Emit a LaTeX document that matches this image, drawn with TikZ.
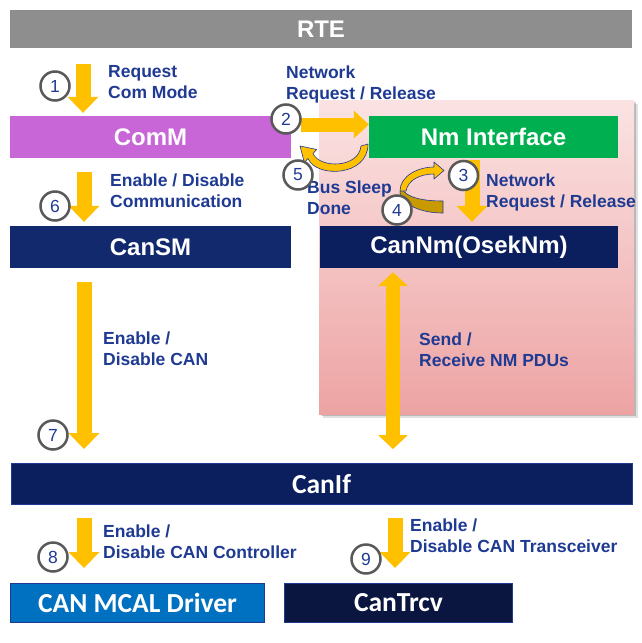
\documentclass[tikz,border=0pt]{standalone}
\usepackage{fontspec}
\setmainfont{Liberation Sans}
\newfontfamily\carlfont{Carlito}
\usetikzlibrary{arrows.meta}
\definecolor{rtegray}{HTML}{8E8E8E}
\definecolor{commpurple}{HTML}{C866D8}
\definecolor{nmgreen}{HTML}{00B050}
\definecolor{cansmblue}{HTML}{13296E}
\definecolor{navyblk}{HTML}{0B1F5E}
\definecolor{mcalblue}{HTML}{0070C0}
\definecolor{trcvnavy}{HTML}{0B1640}
\definecolor{ayellow}{HTML}{FFC000}
\definecolor{agold}{HTML}{C99A00}
\definecolor{txtblue}{HTML}{1F3A93}
\definecolor{circgray}{HTML}{595959}
\definecolor{pinktop}{HTML}{FBE3E3}
\definecolor{pinkbot}{HTML}{EDA3A3}
\begin{document}
\begin{tikzpicture}[x=1pt,y=-1pt,
  box/.style={rectangle, inner sep=0pt, text=white, font=\fontsize{24}{28}\selectfont\bfseries},
  cbox/.style={box, font=\carlfont\fontsize{27.5}{32}\selectfont\bfseries, draw=txtblue, line width=1pt},
  lbl/.style={anchor=north west, inner sep=0pt, align=left, text=txtblue, font=\fontsize{17.5}{21}\selectfont\bfseries},
  num/.style={circle, draw=circgray, line width=2.5pt, fill=white, minimum size=29pt, inner sep=0pt, text=txtblue, font=\fontsize{17.5}{20}\selectfont},
  yarrow/.style={draw=ayellow, line width=15pt, line cap=butt, -{Triangle[length=16pt,width=31pt,line width=0pt]}},
  ydouble/.style={draw=ayellow, line width=14pt, line cap=butt, {Triangle[length=14pt,width=30pt,line width=0pt]}-{Triangle[length=14pt,width=30pt,line width=0pt]}},
  harrow/.style={draw=ayellow, line width=14pt, line cap=butt, -{Triangle[length=15pt,width=28pt,line width=0pt]}},
  curvy/.style={draw=txtblue, line width=0.6pt, line join=round}
]
\useasboundingbox (0,0) rectangle (642,643);
\fill[white] (0,0) rectangle (642,643);

% pink panel with shadow
\fill[black, opacity=0.12] (323,104) rectangle (638,418);
\fill[black, opacity=0.18] (321,102) rectangle (636,416);
\shade[top color=pinktop, bottom color=pinkbot] (319,100) rectangle (634,414);

% boxes
\node[box, fill=rtegray, minimum width=622pt, minimum height=38pt] (rte) at (321,29) {RTE};
\node[box, fill=commpurple, minimum width=281pt, minimum height=42pt] (comm) at (150.5,137) {ComM};
\node[box, fill=nmgreen, minimum width=249pt, minimum height=42pt] (nmif) at (493.5,137) {Nm Interface};
\node[box, fill=cansmblue, minimum width=281pt, minimum height=42pt] (cansm) at (150.5,247) {CanSM};
\node[box, fill=navyblk, minimum width=298pt, minimum height=42pt] (cannm) at (469,247) {CanNm(OsekNm)};
\node[cbox, fill=navyblk, minimum width=621pt, minimum height=41pt] (canif) at (321.5,484) {CanIf};
\node[cbox, fill=mcalblue, minimum width=254pt, minimum height=39pt] (mcal) at (137.5,603) {CAN MCAL Driver};
\node[cbox, fill=trcvnavy, minimum width=228pt, minimum height=39pt] (trcv) at (398.5,603) {CanTrcv};

% straight arrows
\coordinate (a1s) at (83,64);
\draw[yarrow, shorten >=3pt] (a1s) -- (a1s |- comm.north);
\coordinate (a6s) at (84,172);
\draw[yarrow, shorten >=4pt] (a6s) -- (a6s |- cansm.north);
\coordinate (a7x) at (84,0);
\draw[yarrow, shorten <=14pt, shorten >=14pt] (a7x |- cansm.south) -- (a7x |- canif.north);
\coordinate (a8x) at (84,0);
\draw[yarrow, shorten <=13pt, shorten >=15pt] (a8x |- canif.south) -- (a8x |- mcal.north);
\coordinate (a9x) at (395,0);
\draw[yarrow, shorten <=13pt, shorten >=15pt] (a9x |- canif.south) -- (a9x |- trcv.north);
\coordinate (a3x) at (472,0);
\draw[yarrow, shorten <=2pt, shorten >=4pt] (a3x |- nmif.south) -- (a3x |- cannm.north);
\coordinate (adx) at (393,0);
\draw[ydouble, shorten <=4pt, shorten >=14pt] (adx |- cannm.south) -- (adx |- canif.north);
\coordinate (a2y) at (0,124.5);
\draw[harrow, shorten <=10pt] (comm.east |- a2y) -- (nmif.west |- a2y);

% curved arrow 5 (Bus Sleep Done)
\filldraw[curvy, fill=ayellow] (368,144) .. controls (368,177) and (316,178) .. (308,158.5)
  -- (304.3,162.5) -- (300,146) -- (316.7,149.5) -- (313,153.5)
  .. controls (320,169) and (359,168) .. (361,146) -- cycle;

% curved arrow 4
\filldraw[curvy, fill=agold] (401,187) .. controls (405,198) and (424,201) .. (443,201)
  -- (443,213) .. controls (421,213) and (403,205) .. (400,193) -- cycle;
\filldraw[curvy, fill=ayellow] (400,191) .. controls (400,176) and (418,167) .. (434,167)
  -- (434,162) -- (444,170.5) -- (434,179) -- (434,174)
  .. controls (420,174) and (408,180) .. (406,191) -- cycle;

% labels
\node[lbl] (l1) at (108,65.5) {Request\\Com Mode};
\node[lbl] (l2) at (286,65.5) {Network\\Request / Release};
\node[lbl] (l5) at (307,180.5) {Bus Sleep\\Done};
\node[lbl] (l3) at (486,173.5) {Network\\Request / Release};
\node[lbl] (l6) at (110,173.5) {Enable / Disable\\Communication};
\node[lbl] (l7) at (103,331.5) {Enable /\\Disable CAN};
\node[lbl] (ld) at (419,332.5) {Send /\\Receive NM PDUs};
\node[lbl] (l8) at (103,524.5) {Enable /\\Disable CAN Controller};
\node[lbl] (l9) at (410,518.5) {Enable /\\Disable CAN Transceiver};

% numbered circles
\node[num] (c1) at (55,86) {1};
\node[num] (c2) at (286,119) {2};
\node[num] (c3) at (463.5,175.5) {3};
\node[num] (c4) at (397,210) {4};
\node[num] (c5) at (298,175) {5};
\node[num] (c6) at (55,206) {6};
\node[num] (c7) at (53,435) {7};
\node[num] (c8) at (53,557) {8};
\node[num] (c9) at (366,559) {9};
\end{tikzpicture}
\end{document}
